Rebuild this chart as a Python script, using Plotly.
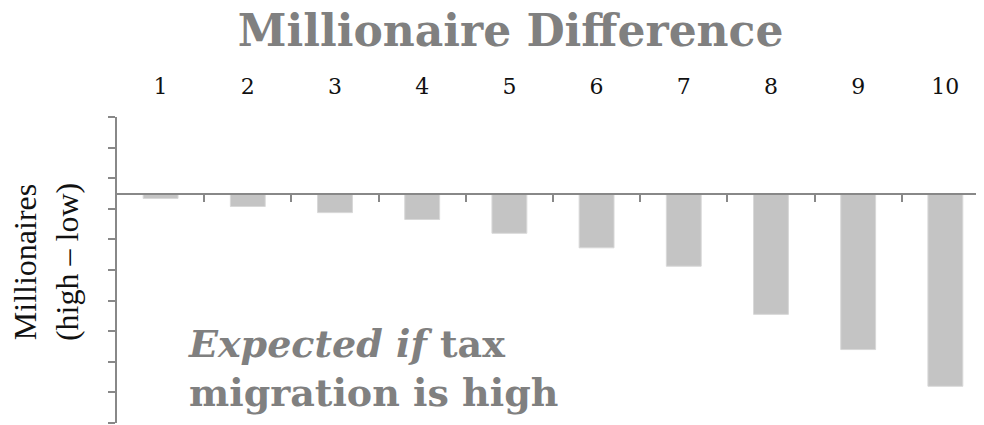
import plotly.graph_objects as go

categories = ["1", "2", "3", "4", "5", "6", "7", "8", "9", "10"]
values = [-6.5, -17, -25, -34, -52, -71, -95, -158, -204, -252]
y_range = [-300, 100]
y_tick0 = 20
y_dtick = 40

x_idx = list(range(len(categories)))
boundaries = [i + 0.5 for i in range(len(categories))]

fig = go.Figure()
fig.add_trace(go.Bar(
    x=x_idx, y=values,
    marker=dict(color="#c4c4c4", line=dict(color="#d8d8d8", width=1)),
    width=0.4, xaxis="x", yaxis="y", showlegend=False, hoverinfo="skip",
))
# invisible trace to activate the boundary-tick axis
fig.add_trace(go.Scatter(x=[0], y=[0], xaxis="x2", yaxis="y", mode="markers",
                         marker=dict(opacity=0), showlegend=False, hoverinfo="skip"))

serif = "Georgia, 'DejaVu Serif', serif"
# page body has a default 8px margin, so the figure is sized to fit the 984x425 window
fig.update_layout(
    width=976, height=417,
    margin=dict(l=109, r=0, t=109, b=2, autoexpand=False),
    paper_bgcolor="white", plot_bgcolor="white",
    title=dict(text="<b>Millionaire Difference</b>", x=0.515, xref="container", xanchor="center",
               y=0.945, yref="container", yanchor="middle",
               font=dict(family=serif, size=44, color="#808080")),
    xaxis=dict(
        range=[-0.5, 9.443], side="top", tickmode="array", tickvals=x_idx, ticktext=categories,
        showline=False, showgrid=False, zeroline=False, ticks="", automargin=False,
        ticklabelstandoff=18,
        tickfont=dict(family=serif, size=22, color="#111111"),
    ),
    xaxis2=dict(
        range=[-0.5, 9.443], overlaying="x", anchor="free", position=0.75, side="bottom",
        tickmode="array", tickvals=boundaries, ticks="outside", ticklen=7, tickwidth=2,
        tickcolor="#888888", showticklabels=False, showline=True, linecolor="#888888",
        linewidth=2, showgrid=False, zeroline=False, automargin=False,
    ),
    yaxis=dict(
        range=y_range, tickmode="linear", tick0=y_tick0, dtick=y_dtick,
        ticks="outside", ticklen=7, tickwidth=2, tickcolor="#888888",
        showticklabels=False, showline=True, linecolor="#888888", linewidth=2,
        showgrid=False, zeroline=False, automargin=False,
    ),
    annotations=[
        dict(
            text="<b><i>Expected if</i> tax<br>migration is high</b>",
            xref="paper", yref="paper", x=0.08, y=0.18, xanchor="left", yanchor="middle",
            align="left", showarrow=False,
            font=dict(family=serif, size=38, color="#808080"),
        ),
        dict(
            text="Millionaires<br>(high – low)",
            xref="paper", yref="paper", x=0, y=0.526, xanchor="right", yanchor="middle",
            xshift=-30, textangle=-90, showarrow=False, align="center",
            font=dict(family="'Liberation Serif', 'Times New Roman', serif", size=32, color="#111111"),
        ),
    ],
)

fig.write_html("out.html")
